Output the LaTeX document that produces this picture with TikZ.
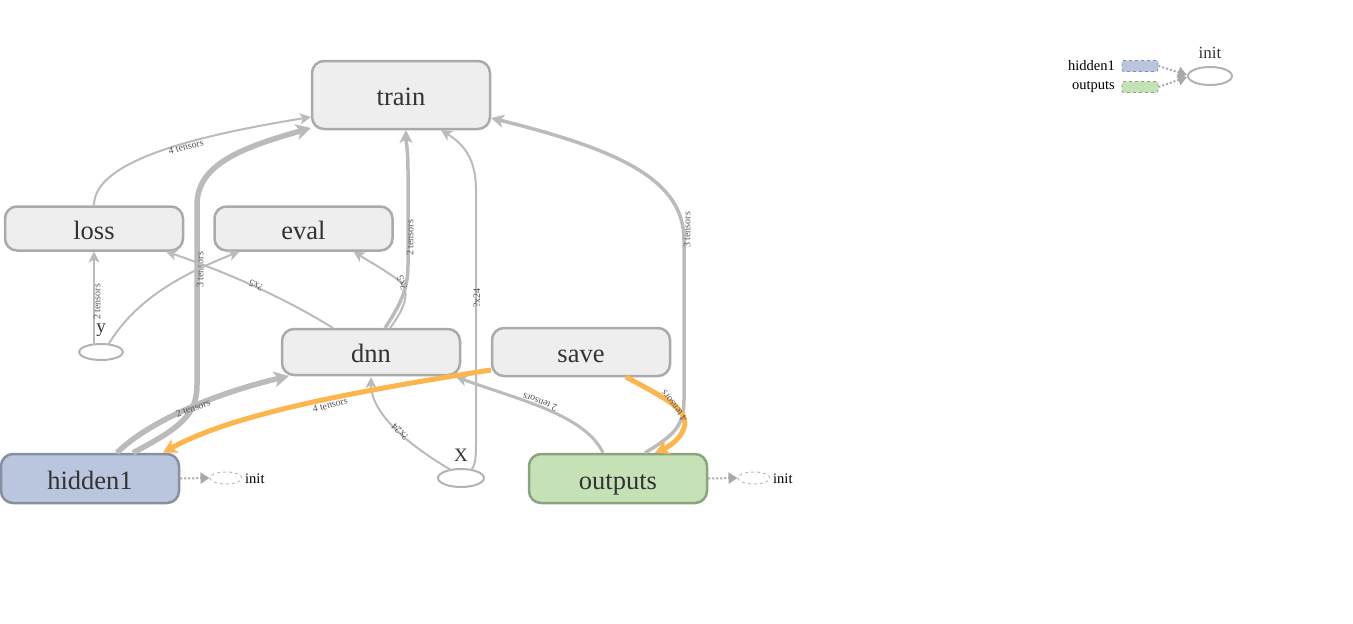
\documentclass[tikz,border=0pt]{standalone}
\usepackage{fontspec}
\setmainfont{Liberation Serif}
\usetikzlibrary{arrows.meta,calc,shapes.geometric}
\definecolor{nodefill}{HTML}{EEEEEE}
\definecolor{nodeborder}{HTML}{AAAAAA}
\definecolor{edgecol}{HTML}{BBBBBB}
\definecolor{textcol}{HTML}{333333}
\definecolor{labelcol}{HTML}{555555}
\definecolor{bluefill}{HTML}{BAC6DE}
\definecolor{blueborder}{HTML}{878FA0}
\definecolor{greenfill}{HTML}{C5E2B7}
\definecolor{greenborder}{HTML}{8BA37E}
\definecolor{orangecol}{HTML}{FDB54D}
\begin{document}
\begin{tikzpicture}[x=1pt,y=-1pt,
  opnode/.style={draw=nodeborder, fill=nodefill, line width=2.5pt, rounded corners=12pt,
    minimum width=178pt, minimum height=44pt, inner sep=0pt, text=textcol,
    text height=25pt, text depth=4pt,
    font=\fontsize{26.5}{30}\selectfont},
  phnode/.style={ellipse, draw=nodeborder!90, line width=2pt, inner sep=0pt},
  edge/.style={draw=edgecol, line width=2pt, -{Stealth[length=11pt,width=11pt,inset=3pt]}},
  mededge/.style={draw=edgecol, line width=3.5pt, -{Stealth[length=13pt,width=13pt,inset=3.5pt]}},
  thickedge/.style={draw=edgecol, line width=5.5pt, -{Stealth[length=15pt,width=16pt,inset=4pt]}},
  orangeedge/.style={draw=orangecol, line width=5pt, -{Stealth[length=14pt,width=15pt,inset=4pt]}},
  elabel/.style={font=\fontsize{10}{11}\selectfont, text=labelcol, inner sep=0.5pt},
  dotedge/.style={draw=edgecol!90!black, line width=2pt, dash pattern=on 2pt off 2pt, -{Triangle[length=9pt,width=11pt]}},
  initell/.style={ellipse, draw=edgecol, dashed, line width=1pt, minimum width=32pt, minimum height=12pt, inner sep=0pt},
  smalltext/.style={font=\fontsize{14.5}{16}\selectfont, text=black, inner sep=1pt},
]
\useasboundingbox (0,0) rectangle (1353,624);

% nodes
\node[opnode, minimum height=68pt] (train) at (401,95) {train};
\node[opnode] (loss) at (94,228.5) {loss};
\node[opnode] (eval) at (303.5,228.5) {eval};
\node[opnode, minimum height=46pt] (dnn) at (371,352) {dnn};
\node[opnode, minimum height=48pt] (save) at (581,352) {save};
\node[opnode, minimum height=49pt, fill=bluefill, draw=blueborder] (hidden1) at (90,478.5) {hidden1};
\node[opnode, minimum height=49pt, fill=greenfill, draw=greenborder] (outputs) at (618,478.5) {outputs};

\node[phnode, minimum width=44pt, minimum height=16pt] (yv) at (101,352) {};
\node[font=\fontsize{19}{21}\selectfont, text=textcol, inner sep=0pt] (ylab) at (101,330) {y};
\node[phnode, minimum width=46pt, minimum height=18pt] (xv) at (461,478) {};
\node[font=\fontsize{19}{21}\selectfont, text=textcol, inner sep=0pt] (xlab) at (461,455) {X};

% edges
\draw[edge] (loss.north) .. controls (94,160) and (200,135) .. ($(train.center)+(-90,22)$);
\node[elabel, rotate=14] (l1) at (186,147) {4 tensors};
\draw[thickedge] ($(hidden1.north)+(43,0)$) .. controls (180,428) and (197,415) .. (197,385)
  -- (197,205) .. controls (197,165) and (240,148) .. ($(train.center)+(-90,33)$);
\node[elabel, rotate=90] (l2) at (200,270) {3 tensors};
\draw[thickedge] ($(hidden1.north)+(27,0)$) .. controls (150,420) and (220,392) .. ($(dnn.center)+(-82,24)$);
\node[elabel, rotate=20] (l3) at (193,408) {2 tensors};
\draw[mededge] ($(dnn.center)+(14,-24)$) .. controls (400,305) and (408,290) .. (408,265)
  -- (408,170) .. controls (408,150) and (406,142) .. ($(train.center)+(5,35)$);
\node[elabel, rotate=90] (l4) at (410,238) {2 tensors};
\draw[edge] ($(dnn.center)+(19,-24)$) .. controls (405,308) and (412,290) .. (398,280)
  .. controls (385,270) and (370,262) .. ($(eval.center)+(50,23)$);
\node[elabel, rotate=110] (l5) at (402,283) {?x5};
\draw[edge] ($(dnn.center)+(-38,-24)$) .. controls (280,295) and (220,270) .. ($(loss.center)+(72,23)$);
\node[elabel, rotate=155] (l6) at (256,285) {?x5};
\draw[edge] ($(yv.center)+(-7,-7)$) -- ($(loss.center)+(0,23)$);
\node[elabel, rotate=90] (l7) at (97,302) {2 tensors};
\draw[edge] ($(yv.center)+(7,-7)$) .. controls (135,300) and (180,275) .. ($(eval.center)+(-64,23)$);
\draw[edge] ($(xv.center)+(10,-8)$) .. controls (476,465) and (476,455) .. (476,440)
  -- (476,190) .. controls (476,160) and (465,145) .. ($(train.center)+(40,35)$);
\node[elabel, rotate=90] (l8) at (477,298) {?x24};
\draw[edge] ($(xv.center)+(-10,-8)$) .. controls (400,440) and (371,410) .. ($(dnn.center)+(0,25)$);
\node[elabel, rotate=135] (l9) at (400,432) {?x24};
\draw[edge, line width=3pt] ($(outputs.north)+(-15,0)$) .. controls (585,415) and (520,400) .. ($(dnn.center)+(85,25)$);
\node[elabel, rotate=160] (l10) at (540,402) {2 tensors};
\draw[mededge] ($(outputs.north)+(27,0)$) .. controls (675,435) and (684,425) .. (684,400)
  -- (684,240) .. controls (684,180) and (620,150) .. ($(train.center)+(90,23)$);
\node[elabel, rotate=90] (l11) at (687,230) {3 tensors};
\draw[orangeedge] ($(save.center)+(-90,18)$) .. controls (350,392) and (230,415) .. ($(hidden1.north)+(73,0)$);
\node[elabel, rotate=15] (l12) at (330,405) {4 tensors};
\draw[orangeedge] ($(save.center)+(45,25)$) .. controls (665,398) and (690,410) .. (684,428)
  .. controls (680,440) and (668,447) .. ($(outputs.north)+(37,0)$);
\node[elabel, rotate=128] (l13) at (674,406) {4 tensors};

% init nodes
\node[initell] (init1) at (226,478) {};
\node[smalltext, anchor=west] (init1t) at (244,479) {init};
\draw[dotedge] (hidden1.east) -- (init1.west);
\node[initell] (init2) at (754,478) {};
\node[smalltext, anchor=west] (init2t) at (772,479) {init};
\draw[dotedge] (outputs.east) -- (init2.west);

% legend
\node[smalltext, anchor=east] (lgh) at (1116,66) {hidden1};
\node[draw=blueborder, fill=bluefill, dashed, line width=0.8pt, rounded corners=2pt, minimum width=36pt, minimum height=11pt, inner sep=0pt] (lgbox1) at (1140,66) {};
\node[smalltext, anchor=east] (lgo) at (1116,87) {outputs};
\node[draw=greenborder, fill=greenfill, dashed, line width=0.8pt, rounded corners=2pt, minimum width=36pt, minimum height=11pt, inner sep=0pt] (lgbox2) at (1140,87) {};
\node[phnode, minimum width=44pt, minimum height=18pt] (lginit) at (1210,76) {};
\node[font=\fontsize{17}{19}\selectfont, text=textcol, inner sep=0pt] (lginitt) at (1210,53) {init};
\draw[dotedge] (lgbox1.east) -- ($(lginit.west)+(0,-1)$);
\draw[dotedge] (lgbox2.east) -- ($(lginit.west)+(0,1)$);
\end{tikzpicture}
\end{document}
